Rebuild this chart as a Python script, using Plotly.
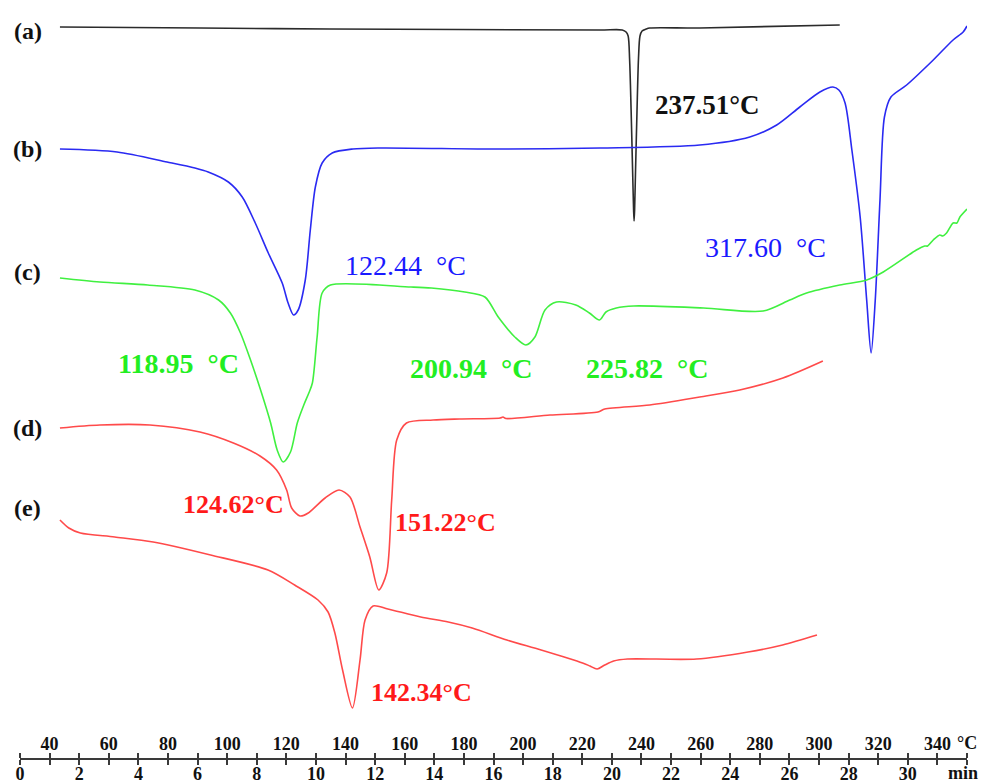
import plotly.graph_objects as go

# DSC thermograms (heat flow, arbitrary offset units) against temperature in °C
A_T = [43.5, 90.8, 134.7, 226.0, 233.5, 234.8, 235.5, 236.0, 236.5, 237.0, 237.34, 237.51,
       237.68, 238.0, 238.5, 239.0, 239.5, 240.2, 241.6, 242.8, 259.7, 307.0]
A_Y = [73.1, 73.0, 72.9, 72.8, 72.8, 72.6, 72.2, 69.8, 64.8, 58.8, 54.8, 53.7,
       54.8, 58.8, 64.8, 70.0, 72.2, 72.7, 72.9, 73.0, 73.0, 73.3]

B_T = [43.5, 62.8, 79.7, 89.1, 93.6, 100.4, 105.1, 109.5, 113.9, 118.6, 120.6, 122.44, 124.0,
       126.4, 128.1, 129.8, 132.1, 135.5, 142.5, 151.6, 192.2, 226.0, 259.7, 276.6, 285.7,
       293.5, 300.3, 304.7, 306.7, 308.8, 311.1, 313.9, 316.1, 317.6, 319.0, 320.6, 322.1,
       324.3, 329.6, 338.6, 345.3, 348.7, 350.0]
B_Y = [60.9, 60.6, 59.6, 59.0, 58.6, 57.6, 56.1, 53.5, 50.5, 47.5, 45.5, 44.3, 44.8,
       47.8, 52.8, 57.1, 59.5, 60.5, 60.9, 61.0, 60.9, 61.0, 61.3, 62.1, 63.3,
       65.1, 66.6, 67.1, 66.8, 65.5, 60.8, 54.1, 45.8, 40.5, 45.8, 55.8, 64.1,
       66.1, 67.3, 69.8, 71.8, 72.6, 73.2]

C_T = [43.5, 57.0, 73.2, 89.1, 97.1, 101.1, 104.5, 107.9, 111.3, 114.7, 116.9, 118.95, 121.4,
       123.7, 125.9, 127.6, 128.8, 130.4, 132.1, 134.9, 162.1, 169.0, 180.3, 187.1, 191.6,
       197.2, 200.94, 204.0, 207.4, 211.3, 217.8, 222.4, 225.82, 228.0, 231.5, 237.4, 261.0,
       281.1, 290.1, 295.8, 307.0, 316.1, 321.7, 332.9, 335.7, 336.7, 338.6, 340.8, 341.8,
       343.1, 345.3, 346.6, 347.6, 350.0]
C_Y = [48.0, 47.6, 47.3, 46.8, 45.8, 44.5, 42.5, 39.8, 36.8, 33.5, 30.8, 29.6, 30.6,
       33.5, 35.3, 36.5, 37.5, 42.1, 46.5, 47.3, 47.1, 47.0, 46.6, 46.1, 44.1,
       42.1, 41.3, 42.1, 44.8, 45.6, 45.3, 44.5, 43.8, 44.6, 45.0, 45.2, 45.0,
       44.7, 45.8, 46.5, 47.3, 47.8, 48.6, 50.8, 51.2, 51.2, 51.8, 52.3, 52.2,
       52.5, 53.5, 53.5, 54.1, 54.9]

D_T = [43.5, 57.0, 73.9, 90.8, 102.1, 111.1, 116.7, 120.1, 121.8, 124.62, 127.4, 133.1,
       137.8, 141.5, 144.9, 148.2, 151.22, 153.9, 155.6, 157.3, 160.6, 169.6, 178.6, 192.2,
       193.2, 194.2, 209.1, 225.3, 227.6, 242.8, 259.7, 273.2, 287.8, 301.3]
D_Y = [33.0, 33.3, 33.3, 32.6, 31.5, 30.2, 28.8, 26.8, 25.0, 24.2, 24.5, 26.0,
       26.8, 26.1, 23.1, 20.1, 16.8, 18.5, 25.8, 31.8, 33.5, 33.8, 33.9, 34.0,
       34.1, 33.95, 34.3, 34.6, 34.9, 35.3, 36.1, 36.8, 38.0, 39.7]

E_T = [43.5, 46.5, 50.4, 62.0, 75.0, 94.4, 113.8, 122.8, 130.7, 134.1, 136.4, 139.0, 142.34,
       144.9, 146.6, 149.3, 154.3, 165.4, 174.7, 182.8, 194.5, 206.1, 220.1, 222.6, 225.0,
       227.6, 230.6, 235.3, 258.6, 276.0, 287.7, 299.3]
E_Y = [23.8, 23.0, 22.5, 22.1, 21.6, 20.3, 18.8, 17.3, 15.8, 14.6, 12.5, 8.8, 5.0,
       9.8, 13.8, 15.2, 14.9, 14.1, 13.6, 13.0, 11.8, 10.8, 9.5, 9.2, 8.9,
       9.3, 9.7, 9.9, 9.9, 10.6, 11.3, 12.3]

# curve tags and their vertical offsets
TAGS = ["(a)", "(b)", "(c)", "(d)", "(e)"]
TAG_Y = [72.7, 60.9, 48.6, 33.0, 25.0]

# peak temperatures: (text, x centre °C, y, colour, bold, size)
PEAK_LABELS = [
    ("237.51°C", 262.4, 65.3, "#111111", True, 27),
    ("122.44\u00a0\u00a0°C", 160.1, 49.3, "#1a1aff", False, 28),
    ("317.60\u00a0\u00a0°C", 281.9, 51.1, "#1a1aff", False, 28),
    ("118.95\u00a0\u00a0°C", 83.5, 39.5, "#22ee22", True, 28),
    ("200.94\u00a0\u00a0°C", 182.5, 39.0, "#22ee22", True, 28),
    ("225.82\u00a0\u00a0°C", 242.0, 39.0, "#22ee22", True, 28),
    ("124.62°C", 102.3, 25.4, "#ff1a1a", True, 26),
    ("151.22°C", 173.9, 23.6, "#ff1a1a", True, 26),
    ("142.34°C", 165.5, 6.6, "#ff1a1a", True, 26),
]

MIN_TICKS = list(range(0, 33, 2))
MIN_TEXT = [str(v) for v in MIN_TICKS[:-1]] + [""]
TEMP_TICKS = list(range(40, 341, 20))
TEMP_TEXT = [str(v) for v in TEMP_TICKS]

SERIF = "Liberation Serif, Times New Roman, serif"
AXIS_C = "#3a3a3a"

fig = go.Figure()
# empty trace that anchors the time (min) axis
fig.add_trace(go.Scatter(x=[0, 32], y=[None, None], xaxis="x", yaxis="y", mode="lines",
                         showlegend=False, hoverinfo="skip"))
series = [
    (A_T, A_Y, "#2b2b2b"),
    (B_T, B_Y, "#2a2af2"),
    (C_T, C_Y, "#40f040"),
    (D_T, D_Y, "#ff4a4a"),
    (E_T, E_Y, "#ff4a4a"),
]
for xs, ys, col in series:
    fig.add_trace(go.Scatter(x=xs, y=ys, xaxis="x2", yaxis="y", mode="lines",
                             line=dict(color=col, width=1.6, shape="spline", smoothing=0.8),
                             showlegend=False, hoverinfo="skip"))

for tag, ty in zip(TAGS, TAG_Y):
    fig.add_annotation(x=32.7, y=ty, xref="x2", yref="y", text=tag, showarrow=False,
                       xanchor="center", yanchor="middle",
                       font=dict(family=SERIF, size=24, color="#111111", weight="bold"))

for txt, tx, ty, col, bold, sz in PEAK_LABELS:
    fig.add_annotation(x=tx, y=ty, xref="x2", yref="y", text=txt, showarrow=False,
                       xanchor="center", yanchor="middle",
                       font=dict(family=SERIF, size=sz, color=col,
                                 weight="bold" if bold else "normal"))

unit_font = dict(family=SERIF, size=18, color="#111111", weight="bold")
# unit labels at the right end of the two scales
fig.add_annotation(x=350, y=1.5, xref="x2", yref="y", text="°C", showarrow=False,
                   xanchor="center", yanchor="middle", font=unit_font)
fig.add_annotation(x=31.86, y=0, xref="x", yref="paper", yshift=-15, text="min",
                   showarrow=False, xanchor="center", yanchor="middle", font=unit_font)

tickfont = dict(family=SERIF, size=18, color="#111111", weight="bold")
fig.update_layout(
    width=981, height=783,
    margin=dict(l=20, r=14, t=0, b=25),
    paper_bgcolor="white", plot_bgcolor="white",
    xaxis=dict(range=[0, 32], automargin=False, showgrid=False, zeroline=False,
               showline=True, linecolor=AXIS_C, linewidth=2, ticks="outside", ticklen=5,
               tickwidth=1.5, tickcolor=AXIS_C, tickmode="array",
               tickvals=MIN_TICKS, ticktext=MIN_TEXT, tickfont=tickfont,
               ticklabelstandoff=-7, ticklabeloverflow="allow",
               minor=dict(tickmode="array", tickvals=list(range(1, 32, 2)),
                          ticks="outside", ticklen=5, tickwidth=1.5, tickcolor=AXIS_C)),
    xaxis2=dict(range=[30, 350], overlaying="x", side="top", anchor="free", position=0,
                automargin=False, showgrid=False, zeroline=False, showline=False,
                ticks="outside", ticklen=5, tickwidth=1.5, tickcolor=AXIS_C,
                tickmode="array", tickvals=TEMP_TICKS, ticktext=TEMP_TEXT, tickfont=tickfont,
                ticklabelstandoff=-4, ticklabeloverflow="allow",
                minor=dict(tickmode="array", tickvals=list(range(30, 351, 20)),
                           ticks="outside", ticklen=5, tickwidth=1.5, tickcolor=AXIS_C)),
    yaxis=dict(range=[0, 75.8], automargin=False, visible=False, showgrid=False,
               zeroline=False),
)

fig.write_html("out.html")
